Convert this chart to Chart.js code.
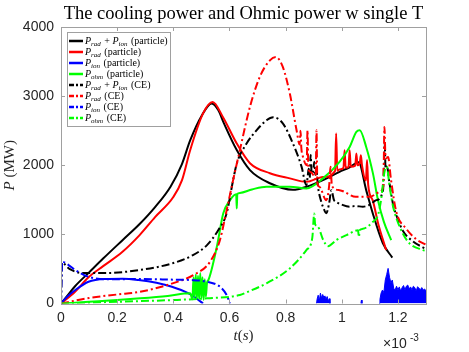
<!DOCTYPE html>
<html>
<head>
<meta charset="utf-8">
<script src="https://cdn.jsdelivr.net/npm/chart.js@4"></script>
<style>
  html, body { margin: 0; padding: 0; background: #fff; }
  #chart { display: block; }
</style>
</head>
<body>
<canvas id="chart" width="469" height="352"></canvas>
<script>
// time in units of 1e-3 s, power in MW
const blackPartT = [0, 0.02, 0.05, 0.1, 0.15, 0.22, 0.28, 0.335, 0.39, 0.43, 0.46, 0.5, 0.537, 0.56, 0.58, 0.626, 0.673, 0.744, 0.826, 0.875, 0.933, 0.992, 1.028, 1.06, 1.087, 1.11, 1.146, 1.18];
const blackPartP = [0, 100, 250, 450, 650, 920, 1150, 1395, 1690, 2010, 2360, 2710, 2895, 2800, 2610, 2220, 1930, 1740, 1645, 1690, 1785, 1905, 1970, 2045, 1640, 1310, 875, 664];

const redPartT = [0, 0.05, 0.098, 0.15, 0.218, 0.28, 0.335, 0.4, 0.431, 0.46, 0.506, 0.54, 0.577, 0.626, 0.673, 0.744, 0.815, 0.874, 0.933, 0.976, 0.98, 0.984, 0.992, 1.006, 1.01, 1.014, 1.024, 1.028, 1.032, 1.048, 1.052, 1.056, 1.064, 1.068, 1.072, 1.086, 1.09, 1.094, 1.11, 1.13, 1.158];
const redPartP = [0, 170, 380, 540, 745, 990, 1250, 1540, 1785, 2218, 2750, 2915, 2695, 2315, 2030, 1885, 1810, 1760, 1830, 1915, 2460, 1920, 1940, 1960, 2217, 1965, 1975, 2217, 1980, 1995, 2170, 2000, 2030, 2146, 2000, 1780, 2075, 1720, 1495, 1150, 773];

const bluePartT = [0, 0.02, 0.051, 0.098, 0.158, 0.22, 0.276, 0.34, 0.395, 0.453, 0.48, 0.506];
const bluePartP = [0, 90, 195, 315, 354, 358, 340, 300, 243, 150, 80, 0];

const blueNoiseT = [0.91, 0.912, 0.916, 0.92, 0.924, 0.928, 0.932, 0.936, 0.94, 0.944, 0.948, 0.952, 0.956, 0.958, 0.96, 1.068, 1.07, 1.072, 1.1, 1.133, 1.136, 1.14, 1.145, 1.15, 1.155, 1.16, 1.165, 1.17, 1.175, 1.18, 1.185, 1.19, 1.195, 1.2, 1.205, 1.21, 1.215, 1.22, 1.225, 1.23, 1.235, 1.24, 1.245, 1.25, 1.255, 1.26, 1.265, 1.27, 1.275, 1.28, 1.285, 1.29, 1.295, 1.3];
const blueNoiseP = [0, 60, 120, 40, 150, 80, 130, 90, 110, 60, 100, 40, 70, 0, null, 0, 50, 0, null, 0, 60, 150, 195, 160, 340, 420, 508, 380, 300, 340, 220, 195, 250, 200, 240, 180, 230, 260, 200, 250, 267, 210, 240, 200, 250, 230, 180, 243, 220, 200, 230, 195, 210, 180];

const greenPartT = [0, 0.1, 0.2, 0.282, 0.38, 0.46, 0.468, 0.472, 0.476, 0.48, 0.484, 0.488, 0.492, 0.496, 0.5, 0.504, 0.508, 0.512, 0.516, 0.52, 0.525, 0.555, 0.578, 0.602, 0.624, 0.626, 0.628, 0.637, 0.68, 0.732, 0.815, 0.874, 0.933, 0.992, 1.028, 1.052, 1.064, 1.087, 1.111, 1.129, 1.15, 1.176];
const greenPartP = [0, 25, 50, 75, 110, 147, 60, 380, 90, 420, 70, 400, 60, 440, 80, 380, 50, 350, 100, 300, 340, 820, 1305, 1495, 1580, 1375, 1585, 1600, 1650, 1690, 1690, 1665, 1810, 2050, 2265, 2483, 2507, 2265, 1882, 1495, 1180, 918];

const blackCeT = [0, 0.004, 0.03, 0.08, 0.15, 0.28, 0.4, 0.47, 0.52, 0.56, 0.59, 0.613, 0.626, 0.661, 0.697, 0.732, 0.756, 0.79, 0.826, 0.857, 0.874, 0.879, 0.882, 0.886, 0.889, 0.893, 0.898, 0.902, 0.906, 0.91, 0.915, 0.925, 0.933, 0.945, 0.955, 0.963, 0.972, 0.98, 1.0, 1.028, 1.05, 1.075, 1.1, 1.123, 1.147, 1.153, 1.156, 1.16, 1.17, 1.183, 1.194, 1.218, 1.253, 1.29, 1.3];
const blackCeP = [0, 590, 500, 440, 440, 484, 585, 700, 845, 1060, 1305, 1785, 2025, 2315, 2507, 2652, 2695, 2607, 2315, 1977, 1712, 1850, 1950, 1820, 2150, 1880, 1900, 2050, 1860, 1930, 1700, 1500, 1400, 1307, 1450, 1640, 1500, 1470, 1430, 1400, 1410, 1400, 1430, 1495, 1640, 2315, 1950, 2000, 1740, 1430, 1280, 1050, 900, 810, 790];

const redCeT = [0, 0.1, 0.2, 0.282, 0.4, 0.471, 0.531, 0.566, 0.59, 0.613, 0.637, 0.673, 0.708, 0.744, 0.765, 0.79, 0.815, 0.839, 0.85, 0.853, 0.856, 0.862, 0.875, 0.878, 0.881, 0.89, 0.9, 0.907, 0.91, 0.913, 0.92, 0.945, 0.955, 0.96, 0.965, 0.992, 1.05, 1.1, 1.135, 1.148, 1.152, 1.156, 1.165, 1.175, 1.194, 1.23, 1.265, 1.3];
const redCeP = [0, 80, 130, 170, 295, 410, 605, 917, 1350, 1785, 2218, 2845, 3278, 3518, 3566, 3422, 3037, 2507, 2300, 2500, 2250, 2120, 2000, 2505, 1950, 1900, 1850, 1800, 2505, 1750, 1690, 1495, 1700, 1977, 1700, 1640, 1543, 1543, 1615, 1700, 2555, 2100, 2120, 1800, 1330, 1080, 930, 850];

const blueCeT = [0, 0.004, 0.027, 0.051, 0.098, 0.158, 0.282, 0.4, 0.46, 0.52, 0.566, 0.59, 0.602];
const blueCeP = [0, 605, 556, 484, 387, 350, 354, 345, 340, 315, 243, 123, 0];

const greenCeT = [0, 0.2, 0.4, 0.52, 0.637, 0.66, 0.732, 0.815, 0.874, 0.895, 0.902, 0.905, 0.915, 0.934, 0.951, 0.981, 1.017, 1.058, 1.061, 1.064, 1.075, 1.111, 1.129, 1.14, 1.152, 1.16, 1.17, 1.183, 1.194, 1.218, 1.241, 1.289, 1.3];
const greenCeP = [0, 25, 50, 75, 123, 160, 292, 508, 773, 950, 1303, 1150, 1110, 918, 830, 918, 990, 1060, 960, 1062, 1080, 1182, 1279, 1500, 1900, 1980, 1700, 1400, 1240, 1010, 870, 773, 760];

const legendLabels = [
    'P_{rad} + P_{ion} (particle)', 'P_{rad} (particle)', 'P_{ion} (particle)', 'P_{ohm} (particle)',
    'P_{rad} + P_{ion} (CE)', 'P_{rad} (CE)', 'P_{ion} (CE)', 'P_{ohm} (CE)'
];
const xTicks = [0, 0.2, 0.4, 0.6, 0.8, 1, 1.2];
const yTicks = [0, 1000, 2000, 3000, 4000];

const DASHDOT = [8, 3, 2, 3];

function pts(ts, ps) {
    return ts.map((t, i) => ({ x: t, y: ps[i] }));
}

function line(label, ts, ps, color, dash) {
    return {
        label: label,
        data: pts(ts, ps),
        borderColor: color,
        backgroundColor: color,
        borderWidth: 2,
        borderDash: dash || [],
        pointRadius: 0,
        cubicInterpolationMode: 'monotone',
        fill: false
    };
}

const datasets = [
    line(legendLabels[0], blackPartT, blackPartP, '#000000'),
    line(legendLabels[1], redPartT, redPartP, '#ff0000'),
    line(legendLabels[2], bluePartT, bluePartP, '#0000ff'),
    line(legendLabels[3], greenPartT, greenPartP, '#00ff00'),
    line(legendLabels[4], blackCeT, blackCeP, '#000000', DASHDOT),
    line(legendLabels[5], redCeT, redCeP, '#ff0000', DASHDOT),
    line(legendLabels[6], blueCeT, blueCeP, '#0000ff', DASHDOT),
    line(legendLabels[7], greenCeT, greenCeP, '#00ff00', DASHDOT)
];
// noisy tail of the particle P_ion, drawn filled, no legend entry
const noise = line('', blueNoiseT, blueNoiseP, '#0000ff');
noise.borderWidth = 1;
noise.cubicInterpolationMode = 'default';
noise.tension = 0;
noise.fill = 'origin';
noise.spanGaps = false;
noise.noLegend = true;
datasets.splice(3, 0, noise);

// later datasets on top, like matlab
datasets.forEach((d, i) => { d.order = datasets.length - i; });

// draw "P_{rad}" style text with subscripts
function drawRich(ctx, text, x, y, size) {
    const parts = text.split(/(P_\{\w+\})/);
    parts.forEach(part => {
        if (!part) return;
        const m = part.match(/^P_\{(\w+)\}$/);
        if (m) {
            ctx.font = 'italic ' + size + 'px "Liberation Serif"';
            ctx.fillText('P', x, y);
            x += ctx.measureText('P').width;
            ctx.font = 'italic ' + Math.round(size * 0.7) + 'px "Liberation Serif"';
            ctx.fillText(m[1], x, y + size * 0.22);
            x += ctx.measureText(m[1]).width + 1;
        } else {
            ctx.font = size + 'px "Liberation Serif"';
            ctx.fillText(part, x, y);
            x += ctx.measureText(part).width;
        }
    });
}

const matlabAxes = {
    id: 'matlabAxes',
    afterDatasetsDraw(chart) {
        const ctx = chart.ctx;
        const a = chart.chartArea;
        const xs = chart.scales.x, ys = chart.scales.y;
        ctx.save();
        ctx.strokeStyle = '#a0a0a0';
        ctx.lineWidth = 1;
        ctx.strokeRect(Math.round(a.left) + 0.5, Math.round(a.top) + 0.5,
            Math.round(a.right - a.left), Math.round(a.bottom - a.top));
        ctx.beginPath();
        xTicks.forEach(v => {
            const px = Math.round(xs.getPixelForValue(v)) + 0.5;
            ctx.moveTo(px, a.bottom); ctx.lineTo(px, a.bottom - 4);
            ctx.moveTo(px, a.top); ctx.lineTo(px, a.top + 4);
        });
        yTicks.forEach(v => {
            const py = Math.round(ys.getPixelForValue(v)) + 0.5;
            ctx.moveTo(a.left, py); ctx.lineTo(a.left + 4, py);
            ctx.moveTo(a.right, py); ctx.lineTo(a.right - 4, py);
        });
        ctx.stroke();

        // legend box
        const lx = 67, ly = 32, lw = 103, lh = 94;
        ctx.fillStyle = '#ffffff';
        ctx.fillRect(lx, ly, lw, lh);
        ctx.strokeStyle = '#a0a0a0';
        ctx.strokeRect(lx + 0.5, ly + 0.5, lw, lh);
        chart.data.datasets.forEach(ds => {
            if (ds.noLegend) return;
            const i = legendLabels.indexOf(ds.label);
            const cy = ly + 9 + i * 11;
            ctx.strokeStyle = ds.borderColor;
            ctx.lineWidth = 2.5;
            ctx.setLineDash(ds.borderDash.length ? [5, 2, 2, 2] : []);
            ctx.beginPath();
            ctx.moveTo(lx + 2, cy); ctx.lineTo(lx + 16, cy);
            ctx.stroke();
            ctx.setLineDash([]);
            ctx.fillStyle = '#000';
            ctx.textBaseline = 'alphabetic';
            ctx.textAlign = 'left';
            drawRich(ctx, ds.label, lx + 18, cy + 3, 10);
        });

        // title
        ctx.fillStyle = '#000';
        ctx.textAlign = 'center';
        ctx.font = '18.5px "Liberation Serif"';
        ctx.fillText('The cooling power and Ohmic power w single T', (a.left + a.right) / 2, 19);

        // x label t(s)
        const xl = [['italic ', 't'], ['', '('], ['italic ', 's'], ['', ')']];
        let w = 0;
        xl.forEach(p => { ctx.font = p[0] + '15px "Liberation Serif"'; w += ctx.measureText(p[1]).width; });
        let x = (a.left + a.right) / 2 - w / 2;
        ctx.textAlign = 'left';
        ctx.fillStyle = '#262626';
        xl.forEach(p => {
            ctx.font = p[0] + '15px "Liberation Serif"';
            ctx.fillText(p[1], x, 340);
            x += ctx.measureText(p[1]).width;
        });

        // y label P (MW)
        ctx.save();
        ctx.translate(14, (a.top + a.bottom) / 2);
        ctx.rotate(-Math.PI / 2);
        ctx.font = 'italic 15px "Liberation Serif"';
        const wp = ctx.measureText('P').width;
        ctx.font = '15px "Liberation Serif"';
        const wm = ctx.measureText(' (MW)').width;
        const yx = -(wp + wm) / 2;
        ctx.font = 'italic 15px "Liberation Serif"';
        ctx.fillText('P', yx, 0);
        ctx.font = '15px "Liberation Serif"';
        ctx.fillText(' (MW)', yx + wp, 0);
        ctx.restore();

        // exponent
        ctx.fillStyle = '#262626';
        ctx.font = '14px "Liberation Sans"';
        ctx.fillText('\u00d710', 383, 348);
        ctx.font = '10px "Liberation Sans"';
        ctx.fillText('-3', 410, 341);
        ctx.restore();
    }
};

new Chart(document.getElementById('chart'), {
    type: 'line',
    data: { datasets: datasets },
    options: {
        responsive: false,
        animation: false,
        devicePixelRatio: 1,
        layout: { padding: { left: 0, right: 43, top: 27, bottom: 0 } },
        plugins: {
            legend: { display: false },
            tooltip: { enabled: false }
        },
        scales: {
            x: {
                type: 'linear',
                min: 0,
                max: 1.3,
                afterFit: s => { s.height = 48.5; },
                afterBuildTicks: s => { s.ticks = xTicks.map(v => ({ value: v })); },
                grid: { display: false, tickLength: 0 },
                border: { display: false },
                ticks: {
                    color: '#262626',
                    font: { family: 'Liberation Sans', size: 14 },
                    padding: 6,
                    maxRotation: 0,
                    autoSkip: false,
                    callback: v => String(+v.toFixed(1))
                }
            },
            y: {
                min: 0,
                max: 4000,
                afterFit: s => { s.width = 61; },
                afterBuildTicks: s => { s.ticks = yTicks.map(v => ({ value: v })); },
                grid: { display: false, tickLength: 0 },
                border: { display: false },
                ticks: {
                    color: '#262626',
                    font: { family: 'Liberation Sans', size: 14 },
                    padding: 7,
                    callback: v => String(v)
                }
            }
        }
    },
    plugins: [matlabAxes]
});
</script>
</body>
</html>
